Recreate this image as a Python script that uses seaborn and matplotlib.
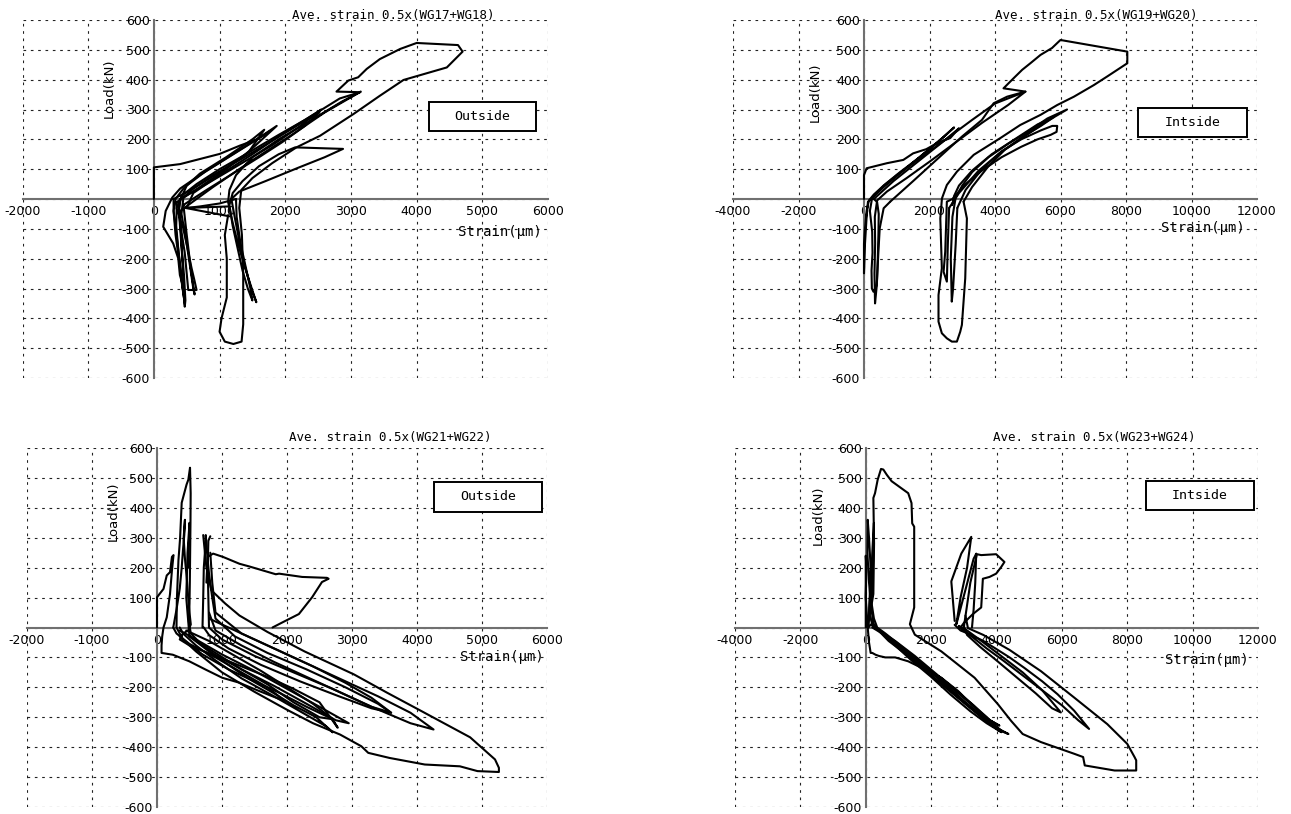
import numpy as np
import pandas as pd
import matplotlib
matplotlib.use("Agg")
import matplotlib.pyplot as plt
from matplotlib.patches import Rectangle
from matplotlib.ticker import MultipleLocator, FuncFormatter
import seaborn as sns

# ---------------------------------------------------------------------------
# Load (kN) versus averaged strain (micro-strain) for four gauge pairs.
# Each gauge pair is stored as a handful of loading cycles.
# ---------------------------------------------------------------------------

# WG17+WG18 (outside)
wg1718_c1_strain = [0, 0, 0, 400, 1000, 1310, 1560, 1770, 1500, 1100, 700, 400, 280, 180, 142, 218, 294, 371, 396, 447, 472, 440, 400, 350, 300, 300]
wg1718_c1_load = [0, 60, 106, 117, 151, 179, 199, 228, 190, 135, 80, 35, 5, -40, -93, -121, -149, -199, -255, -294, -355, -300, -220, -130, -40, 0]
wg1718_c2_strain = [300, 600, 1000, 1400, 1870, 1600, 1200, 800, 500, 345, 447, 523, 574, 620, 650, 523, 500, 470, 420, 380, 400]
wg1718_c2_load = [0, 35, 90, 150, 245, 205, 150, 95, 45, -31, -98, -177, -232, -275, -305, -305, -250, -180, -110, -50, 0]
wg1718_c3_strain = [400, 800, 1300, 1800, 2200, 2550, 2300, 1900, 1400, 1000, 650, 420, 380, 400, 430, 460, 480, 470, 450, 420, 400]
wg1718_c3_load = [0, 50, 115, 180, 240, 300, 265, 215, 150, 100, 50, 10, -30, -100, -180, -260, -340, -361, -280, -150, -40]
wg1718_c4_strain = [350, 700, 1100, 1450, 1680, 1500, 1100, 700, 450, 330, 300, 330, 380, 420, 460, 470, 430, 380, 340, 350]
wg1718_c4_load = [-10, 40, 100, 160, 232, 200, 140, 85, 35, 0, -40, -120, -200, -270, -330, -350, -290, -190, -90, -10]
wg1718_c5_strain = [400, 900, 1500, 2100, 2600, 3150, 2850, 2400, 1900, 1500, 1250, 1150, 1130, 1200, 1280, 1360, 1460, 1540, 1560, 1480, 1380, 1300, 1230, 1180]
wg1718_c5_load = [-40, 40, 130, 215, 290, 360, 325, 265, 200, 140, 80, 30, -10, -80, -150, -210, -280, -333, -346, -300, -220, -140, -60, 0]
wg1718_c6_strain = [1180, 1300, 1700, 2200, 2600, 2880, 2150, 1900, 1600, 1350, 1200, 1150, 1200, 1280, 1350, 1430, 1500, 1480, 1400, 1320, 1260, 1250]
wg1718_c6_load = [0, 25, 60, 105, 140, 168, 173, 150, 110, 60, 20, -20, -90, -170, -240, -300, -340, -310, -230, -150, -60, 0]
wg1718_c7_strain = [1250, 1000, 700, 500, 600, 1000, 1500, 2000, 2530, 2830, 3140, 2780, 2960, 3110, 3240, 3440, 3750, 4000, 4630, 4700, 4460, 3800, 3440, 3040, 2530, 2170, 1800, 1500, 1330, 1300, 1340, 1360, 1360, 1335, 1210, 1080, 1000, 1030, 1110, 1110, 1080, 1130]
wg1718_c7_load = [0, -15, -25, -30, 20, 80, 150, 225, 296, 337, 358, 360, 397, 408, 436, 469, 503, 523, 516, 494, 441, 399, 346, 285, 212, 173, 120, 70, 30, -30, -120, -250, -420, -478, -486, -478, -445, -400, -330, -200, -121, -54]
wg1718_c8_strain = [1130, 480, 1150]
wg1718_c8_load = [-25, -30, -58]
wg1718_c9_strain = [450, 800, 1200, 1600, 1950, 2300, 2520, 2250, 1800, 1300, 900, 600, 450, 420, 500, 560, 600, 620, 560, 500, 450]
wg1718_c9_load = [-20, 30, 85, 140, 190, 245, 290, 255, 195, 130, 80, 35, 5, -50, -150, -240, -300, -320, -230, -120, -20]

# WG19+WG20 (inside)
wg1920_c1_strain = [0, 0, 80, 700, 1200, 1500, 1900, 2280, 2630, 2900, 2500, 2000, 1500, 1000, 600, 300, 150, 80, 30, 0, 0, 0, 30, 80, 120]
wg1920_c1_load = [0, 80, 103, 120, 131, 153, 167, 190, 204, 237, 200, 160, 120, 80, 45, 15, -5, -40, -100, -150, -200, -249, -150, -60, -10]
wg1920_c2_strain = [120, 600, 1200, 1800, 2400, 2750, 2300, 1700, 1100, 600, 250, 180, 250, 260, 230, 240, 290, 340, 390, 420, 440, 450, 400, 300]
wg1920_c2_load = [-10, 40, 95, 150, 205, 240, 195, 140, 90, 45, 5, -40, -110, -180, -240, -300, -311, -300, -290, -200, -120, -50, -10, 0]
wg1920_c3_strain = [300, 900, 1700, 2500, 3300, 4000, 4930, 4400, 3600, 2800, 2000, 1300, 700, 400, 330, 340, 320, 337, 390, 440, 480, 600, 800]
wg1920_c3_load = [0, 60, 130, 200, 265, 320, 360, 315, 255, 190, 125, 70, 25, -5, -60, -150, -250, -350, -290, -177, -98, -31, -9]
wg1920_c4_strain = [800, 1500, 2300, 3000, 3600, 3960, 4370, 4930, 4260, 4570, 4830, 5080, 5390, 5740, 5950, 6000, 8040, 8040, 7430, 7020, 6410, 5900, 5390, 4770, 4160, 3350, 2840, 2530, 2380, 2330, 2377, 2275, 2275, 2377, 2530, 2683, 2836, 2938, 2989, 3091, 3142, 3040]
wg1920_c4_load = [-9, 60, 140, 210, 265, 321, 343, 360, 371, 405, 433, 455, 483, 506, 528, 533, 494, 455, 411, 382, 343, 315, 282, 248, 204, 148, 92, 47, 2, -65, -232, -322, -411, -450, -467, -478, -478, -445, -422, -266, -65, -9]
wg1920_c5_strain = [3040, 3300, 3800, 4300, 4900, 5500, 6200, 5600, 5000, 4400, 3800, 3300, 3000, 2800, 2700, 2650, 2680, 2720, 2800, 2850]
wg1920_c5_load = [-9, 40, 110, 165, 210, 255, 300, 270, 225, 185, 140, 90, 45, 5, -60, -200, -344, -300, -150, -30]
wg1920_c6_strain = [2850, 3100, 3600, 4200, 4800, 5400, 5750, 5900, 5880, 5700, 5300, 4800, 4200, 3600, 3100, 2700, 2530, 2480, 2430, 2530, 2560, 2600]
wg1920_c6_load = [-30, 30, 100, 160, 200, 230, 245, 245, 225, 215, 200, 175, 140, 95, 50, 0, -9, -177, -244, -277, -150, -30]
wg1920_c7_strain = [2600, 2900, 3500, 4100, 4800, 5400, 5800, 5300, 4600, 3900, 3300, 2900, 2750, 2700]
wg1920_c7_load = [-30, 20, 95, 150, 205, 245, 275, 250, 200, 150, 95, 45, 10, -20]

# WG21+WG22 (outside)
wg2122_c1_strain = [0, 0, 100, 150, 200, 230, 254, 230, 200, 150, 100, 80, 70, 70, 243, 497, 751, 1004, 1258, 1511, 1765, 1968, 1700, 1300, 900, 500, 300, 250]
wg2122_c1_load = [0, 101, 129, 174, 185, 236, 242, 191, 112, 34, 0, -30, -60, -85, -91, -113, -141, -168, -184, -207, -229, -246, -200, -150, -100, -55, -20, 0]
wg2122_c2_strain = [250, 300, 350, 380, 400, 420, 430, 410, 430, 460, 480, 500, 520, 480, 400, 350, 500, 900, 1300, 1700, 2100, 2500, 2780, 2700, 2300, 1900, 1500, 1100, 700, 400, 300]
wg2122_c2_load = [0, 60, 130, 200, 260, 310, 360, 300, 230, 160, 100, 50, 10, -10, -20, -40, -60, -95, -130, -165, -205, -250, -335, -306, -265, -220, -180, -140, -90, -40, 0]
wg2122_c3_strain = [300, 305, 330, 355, 380, 455, 482, 508, 518, 515, 510, 505, 500, 490, 520, 700, 1000, 1400, 1800, 2100, 2450, 2700, 2600, 2200, 1800, 1300, 900, 600, 400, 350]
wg2122_c3_load = [0, 90, 225, 298, 417, 478, 494, 534, 449, 350, 250, 150, 80, 20, -20, -60, -110, -170, -220, -260, -300, -350, -330, -280, -230, -170, -110, -60, -20, 0]
wg2122_c4_strain = [700, 711, 720, 740, 750, 770, 800, 850, 900, 1200, 1700, 2300, 2900, 3400, 3600, 3300, 2800, 2200, 1600, 1100, 800, 720]
wg2122_c4_load = [0, 100, 200, 260, 309, 250, 180, 100, 30, -30, -85, -140, -200, -255, -285, -270, -230, -180, -125, -70, -25, 0]
wg2122_c5_strain = [760, 780, 863, 1015, 1269, 1421, 1827, 1878, 2233, 2614, 2640, 2538, 2386, 2183, 1929, 1777]
wg2122_c5_load = [150, 236, 247, 236, 213, 204, 178, 180, 169, 166, 163, 152, 101, 45, 17, 0]
wg2122_c6_strain = [711, 760, 837, 1050, 1269, 1700, 2270, 3032, 3540, 4056, 4817, 5200, 5260, 5260, 4930, 4660, 4120, 3577, 3250, 3144, 2818, 2400, 2000, 1500, 1000, 600, 350]
wg2122_c6_load = [309, 200, 124, 80, 40, -15, -80, -157, -218, -278, -367, -441, -469, -483, -480, -464, -458, -436, -419, -397, -358, -320, -275, -215, -150, -80, -30]
wg2122_c7_strain = [800, 1100, 1600, 2200, 2800, 3400, 3900, 4255, 3900, 3300, 2700, 2100, 1500, 1000, 800, 790, 780, 790, 820]
wg2122_c7_load = [30, 0, -50, -110, -170, -230, -285, -341, -320, -265, -205, -150, -95, -40, 0, 100, 200, 290, 305]
wg2122_c8_strain = [820, 850, 900, 1300, 1800, 2400, 2900, 3300, 3604, 3300, 2800, 2300, 1800, 1300, 900, 800]
wg2122_c8_load = [250, 150, 50, -20, -70, -130, -185, -235, -285, -265, -215, -165, -115, -60, -10, 50]
wg2122_c9_strain = [450, 800, 1200, 1600, 2000, 2400, 2710, 2500, 2100, 1700, 1300, 900, 500]
wg2122_c9_load = [-10, -45, -95, -145, -200, -255, -307, -300, -250, -190, -140, -85, -30]
wg2122_c10_strain = [350, 600, 1000, 1500, 2000, 2500, 2950, 2750, 2300, 1800, 1300, 800, 500, 450, 470, 500, 480]
wg2122_c10_load = [-10, -40, -90, -145, -205, -265, -320, -310, -255, -195, -140, -80, -30, 100, 250, 350, 200]

# WG23+WG24 (inside)
wg2324_c1_strain = [0, 0, 20, 0, 60, 100, 150, 200, 250, 300, 400, 600, 900, 1299, 1807, 2314, 2822, 3330, 3634, 4090, 3800, 3300, 2700, 2100, 1500, 900, 400, 150, 80]
wg2324_c1_load = [0, 240, 200, 100, 0, -50, -85, -85, -88, -91, -95, -100, -100, -113, -140, -168, -212, -267, -300, -328, -310, -260, -205, -150, -95, -45, -10, 10, 0]
wg2324_c2_strain = [80, 120, 150, 100, 60, 50, 100, 160, 200, 250, 400, 700, 1100, 1600, 2100, 2600, 3100, 3600, 4000, 4365, 4162, 3700, 3100, 2500, 1900, 1300, 800, 400, 200, 100]
wg2324_c2_load = [0, 100, 200, 300, 360, 250, 150, 80, 40, 10, -10, -35, -75, -120, -170, -215, -260, -305, -335, -356, -347, -300, -245, -190, -140, -90, -45, -10, 10, 50]
wg2324_c3_strain = [100, 160, 200, 250, 240, 200, 180, 250, 350, 600, 1000, 1500, 2000, 2500, 3000, 3500, 3900, 3600, 3100, 2500, 1900, 1300, 700, 300]
wg2324_c3_load = [50, 150, 250, 350, 250, 150, 80, 30, 0, -20, -55, -100, -145, -195, -245, -290, -320, -305, -260, -205, -150, -95, -45, 0]
wg2324_c4_strain = [2720, 2619, 2620, 2923, 3228, 3100, 2900, 2771, 2800, 3300, 3330, 3380, 3350, 3300, 3250]
wg2324_c4_load = [22, 152, 155, 247, 303, 200, 100, 11, 22, 230, 236, 247, 150, 60, 0]
wg2324_c5_strain = [3000, 3200, 3400, 3532, 3989, 4243, 4142, 3989, 3786, 3583, 3532, 3278, 3000, 2900]
wg2324_c5_load = [0, 150, 245, 242, 245, 219, 202, 180, 169, 163, 67, 45, 15, 0]
wg2324_c6_strain = [2720, 2900, 3126, 3600, 3938, 4400, 4852, 5400, 5867, 6375, 6832, 6500, 6000, 5400, 4800, 4200, 3700, 3300, 3000, 2850]
wg2324_c6_load = [9, -10, -20, -45, -68, -100, -135, -180, -223, -278, -339, -310, -260, -210, -160, -110, -70, -35, -10, 5]
wg2324_c7_strain = [2850, 3100, 3600, 4200, 4800, 5400, 5969, 5700, 5200, 4600, 4000, 3500, 3100, 3000]
wg2324_c7_load = [5, -10, -50, -100, -150, -210, -284, -270, -220, -165, -110, -65, -25, 5]
wg2324_c8_strain = [61, 233, 254, 233, 284, 365, 467, 538, 640, 792, 1299, 1400, 1421, 1482, 1482, 1350, 1502, 2314, 3330, 4040, 4446, 4801, 5360, 6375, 6650, 6700, 7613, 8274, 8274, 8223, 8000, 7390, 6375, 5360, 4400, 3600, 3126, 3050]
wg2324_c8_load = [0, 112, 281, 433, 449, 494, 530, 528, 511, 489, 449, 416, 348, 337, 67, 11, -24, -80, -168, -256, -312, -356, -383, -422, -433, -461, -478, -478, -444, -433, -389, -323, -234, -146, -75, -25, -2, 40]
wg2324_c9_strain = [200, 500, 900, 1400, 2000, 2600, 3200, 3700, 4150, 3900, 3400, 2800, 2200, 1600, 1000, 500, 250]
wg2324_c9_load = [0, -20, -60, -110, -165, -225, -280, -320, -350, -330, -285, -230, -170, -115, -60, -15, 0]

panel_titles = ["Ave. strain 0.5x(WG17+WG18)", "Ave. strain 0.5x(WG19+WG20)",
                "Ave. strain 0.5x(WG21+WG22)", "Ave. strain 0.5x(WG23+WG24)"]
panel_tags = ["Outside", "Intside", "Outside", "Intside"]

W, H = 1291, 814

sns.set_theme(style="white")
plt.rcParams["font.family"] = ["DejaVu Sans"]
plt.rcParams["axes.unicode_minus"] = False

fig = plt.figure(figsize=(W / 100, H / 100), dpi=100)
fig.patch.set_facecolor("white")


def fx(x):
    return x / W


def fy(y):
    return 1 - y / H


def loops_frame(pairs):
    parts = []
    for k, (s, l) in enumerate(pairs):
        parts.append(pd.DataFrame({"strain": s, "load": l, "cycle": k}))
    return pd.concat(parts, ignore_index=True)


def draw_panel(box, xlim, xmajor, xminor, pairs, title, tag, title_xy, ylab_xy,
               xlab_xy, tag_box):
    x0, y0, x1, y1 = box
    ax = fig.add_axes([fx(x0), fy(y1), fx(x1) - fx(x0), fy(y0) - fy(y1)])
    ax.set_facecolor("white")
    df = loops_frame(pairs)
    sns.lineplot(data=df, x="strain", y="load", units="cycle", estimator=None,
                 sort=False, color="black", lw=1.5, ax=ax, legend=False)
    ax.set_xlim(*xlim)
    ax.set_ylim(-600, 600)
    ax.set_xlabel("")
    ax.set_ylabel("")

    ax.xaxis.set_major_locator(MultipleLocator(xmajor))
    ax.xaxis.set_minor_locator(MultipleLocator(xminor))
    ax.yaxis.set_major_locator(MultipleLocator(100))
    ax.yaxis.set_minor_locator(MultipleLocator(20))
    ax.grid(True, which="major", color="#222222", lw=0.8, ls=(0, (2.4, 4.2)))

    for side in ("top", "right"):
        ax.spines[side].set_visible(False)
    for side in ("left", "bottom"):
        ax.spines[side].set_position(("data", 0))
        ax.spines[side].set_color("#707070")
        ax.spines[side].set_linewidth(1.5)
        ax.spines[side].set_zorder(1.5)

    ax.tick_params(axis="x", which="major", direction="inout", length=7, width=1,
                   color="#707070", labelsize=9, pad=1, labelcolor="black")
    ax.tick_params(axis="x", which="minor", direction="inout", length=5, width=1,
                   color="#707070")
    ax.tick_params(axis="y", which="major", direction="in", length=5, width=1,
                   color="#707070", labelsize=9, pad=3, labelcolor="black")
    ax.tick_params(axis="y", which="minor", direction="in", length=3, width=1,
                   color="#707070")
    ax.xaxis.set_major_formatter(FuncFormatter(lambda v, p: f"{int(round(v))}"))
    ax.yaxis.set_major_formatter(
        FuncFormatter(lambda v, p: "" if abs(v) < 1e-9 else f"{int(round(v))}"))

    fig.text(fx(title_xy[0]), fy(title_xy[1]), title, ha="center", va="center",
             fontsize=9, family="DejaVu Sans Mono", color="black")
    fig.text(fx(ylab_xy[0]), fy(ylab_xy[1]), "Load(kN)", rotation=90, ha="center",
             va="center", fontsize=9.5, color="black")
    fig.text(fx(xlab_xy[0]), fy(xlab_xy[1]), "Strain(μm)", ha="center", va="center",
             fontsize=10, family="DejaVu Sans Mono", color="black")
    bx0, by0, bx1, by1 = tag_box
    fig.patches.append(Rectangle((fx(bx0), fy(by1)), fx(bx1) - fx(bx0),
                                 fy(by0) - fy(by1), transform=fig.transFigure,
                                 facecolor="white", edgecolor="black", lw=1.4,
                                 zorder=5))
    fig.text(fx((bx0 + bx1) / 2), fy((by0 + by1) / 2), tag, ha="center", va="center",
             fontsize=9.5, family="DejaVu Sans Mono", color="black", zorder=6)
    return ax


draw_panel((22.5, 20, 548, 378), (-2000, 6000), 1000, 250,
           [(wg1718_c1_strain, wg1718_c1_load), (wg1718_c2_strain, wg1718_c2_load),
            (wg1718_c3_strain, wg1718_c3_load), (wg1718_c4_strain, wg1718_c4_load),
            (wg1718_c5_strain, wg1718_c5_load), (wg1718_c6_strain, wg1718_c6_load),
            (wg1718_c7_strain, wg1718_c7_load), (wg1718_c8_strain, wg1718_c8_load),
            (wg1718_c9_strain, wg1718_c9_load)],
           panel_titles[0], panel_tags[0], (393, 15), (109, 88), (500, 232),
           (429, 102, 536, 131))

draw_panel((733, 20, 1257, 378), (-4000, 12000), 2000, 500,
           [(wg1920_c1_strain, wg1920_c1_load), (wg1920_c2_strain, wg1920_c2_load),
            (wg1920_c3_strain, wg1920_c3_load), (wg1920_c4_strain, wg1920_c4_load),
            (wg1920_c5_strain, wg1920_c5_load), (wg1920_c6_strain, wg1920_c6_load),
            (wg1920_c7_strain, wg1920_c7_load)],
           panel_titles[1], panel_tags[1], (1096, 15), (815, 92), (1203, 228),
           (1138, 108, 1247, 137))

draw_panel((27, 448, 547, 807), (-2000, 6000), 1000, 250,
           [(wg2122_c1_strain, wg2122_c1_load), (wg2122_c2_strain, wg2122_c2_load),
            (wg2122_c3_strain, wg2122_c3_load), (wg2122_c4_strain, wg2122_c4_load),
            (wg2122_c5_strain, wg2122_c5_load), (wg2122_c6_strain, wg2122_c6_load),
            (wg2122_c7_strain, wg2122_c7_load), (wg2122_c8_strain, wg2122_c8_load),
            (wg2122_c9_strain, wg2122_c9_load), (wg2122_c10_strain, wg2122_c10_load)],
           panel_titles[2], panel_tags[2], (390, 438), (113, 511), (502, 657),
           (434, 482, 542, 512))

draw_panel((735, 448, 1258, 807), (-4000, 12000), 2000, 500,
           [(wg2324_c1_strain, wg2324_c1_load), (wg2324_c2_strain, wg2324_c2_load),
            (wg2324_c3_strain, wg2324_c3_load), (wg2324_c4_strain, wg2324_c4_load),
            (wg2324_c5_strain, wg2324_c5_load), (wg2324_c6_strain, wg2324_c6_load),
            (wg2324_c7_strain, wg2324_c7_load), (wg2324_c8_strain, wg2324_c8_load),
            (wg2324_c9_strain, wg2324_c9_load)],
           panel_titles[3], panel_tags[3], (1094, 437), (818, 515), (1207, 660),
           (1146, 481, 1254, 510))

fig.savefig("out.png", dpi=100, facecolor="white")
